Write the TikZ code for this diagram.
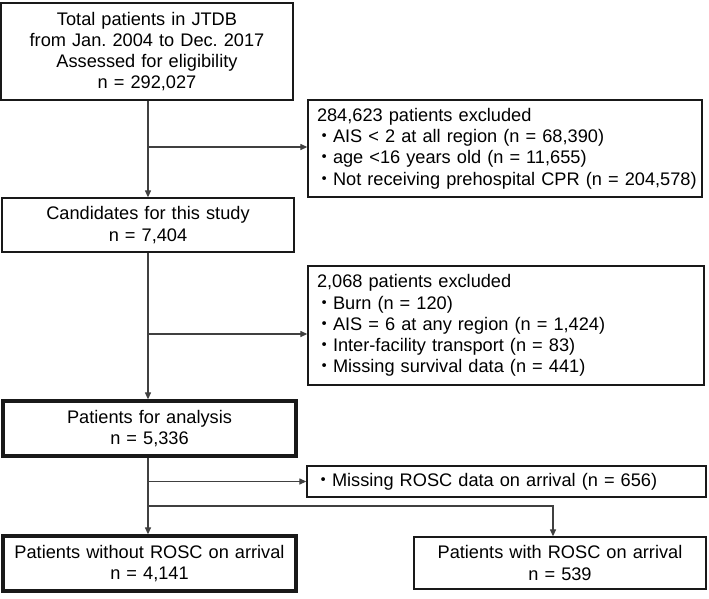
\documentclass[tikz,border=0pt]{standalone}
\usepackage{fontspec}
\setmainfont{Liberation Sans}
\newfontfamily\cjk{Noto Sans CJK JP}
\usetikzlibrary{arrows.meta}
\newcommand{\fs}{\fontsize{18.2}{21.2}\selectfont\frenchspacing}
\newcommand{\bul}[1]{\mbox{\makebox[16pt][c]{\cjk ・}#1}}
\begin{document}
\begin{tikzpicture}[x=1pt,y=-1pt,
  box/.style={draw=black!90, line width=1.3pt, inner sep=0pt, align=center, font=\fs},
  thickbox/.style={box, line width=3.3pt},
  lbox/.style={box, align=left},
  conn/.style={draw=black!75, line width=1.2pt},
  arr/.style={conn, -{Triangle[length=7pt,width=6pt]}}
]
\useasboundingbox[fill=white] (0,0) rectangle (709,598);
\coordinate (vx) at (148,0);

\node[box, minimum width=292pt, minimum height=97pt, text width=280pt] (b1) at (147,51.5)
  {Total patients in JTDB\\from Jan. 2004 to Dec. 2017\\Assessed for eligibility\\n = 292,027};
\node[lbox, minimum width=394pt, minimum height=97pt, text width=376pt] (b2) at (505,148.5)
  {\mbox{284,623 patients excluded}\\\bul{AIS < 2 at all region (n = 68,390)}\\\bul{age <16 years old (n = 11,655)}\\\bul{Not receiving prehospital CPR (n = 204,578)}};
\node[box, minimum width=292pt, minimum height=54pt, text width=280pt] (b3) at (148,225)
  {Candidates for this study\\n = 7,404};
\node[lbox, minimum width=396pt, minimum height=119pt, text width=378pt] (b4) at (506,325.5)
  {\mbox{2,068 patients excluded}\\\bul{Burn (n = 120)}\\\bul{AIS = 6 at any region (n = 1,424)}\\\bul{Inter-facility transport (n = 83)}\\\bul{Missing survival data (n = 441)}};
\node[thickbox, minimum width=293pt, minimum height=55pt, text width=280pt] (b5) at (149.5,428.5)
  {Patients for analysis\\n = 5,336};
\node[lbox, minimum width=399pt, minimum height=31pt, text width=381pt] (b6) at (506.5,481.5)
  {\bul{Missing ROSC data on arrival (n = 656)}};
\node[thickbox, minimum width=293pt, minimum height=55pt, text width=285pt] (b7) at (149.5,563.5)
  {Patients without ROSC on arrival\\n = 4,141};
\node[box, minimum width=292pt, minimum height=52pt, text width=280pt] (b8) at (560,563)
  {Patients with ROSC on arrival\\n = 539};

\coordinate (j1) at (148,147);
\coordinate (j2) at (148,334);
\coordinate (j3) at (148,481.5);
\coordinate (j4) at (148,506);
\coordinate (d4) at (553,506);

\draw[arr] (b1.south -| vx) -- (b3.north -| vx);
\draw[arr] (j1) -- (j1 -| b2.west);
\draw[arr] (b3.south -| vx) -- (b5.north -| vx);
\draw[arr] (j2) -- (j2 -| b4.west);
\draw[arr] (b5.south -| vx) -- (b7.north -| vx);
\draw[arr] (j3) -- (b6.west);
\draw[arr] (j4) -- (d4) -- (d4 |- b8.north);
\end{tikzpicture}
\end{document}
